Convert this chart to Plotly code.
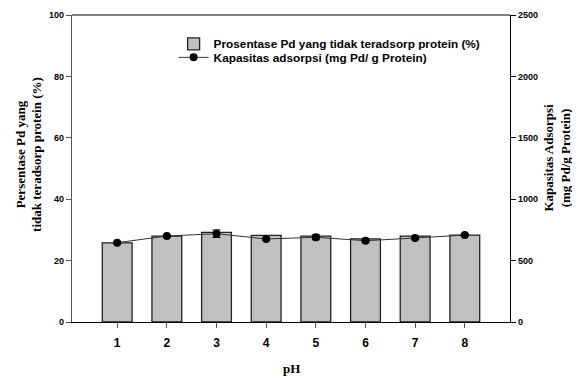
import plotly.graph_objects as go

ph = [1, 2, 3, 4, 5, 6, 7, 8]
persen = [25.8, 28.0, 29.2, 28.2, 28.0, 27.1, 28.0, 28.3]
kapasitas = [646, 700, 719, 676, 690, 662, 684, 708]
kapasitas_err = [8, 10, 31, 10, 20, 10, 12, 10]

ann_font = dict(family="Liberation Serif", size=13, color="black")
leg_font = dict(family="Liberation Sans", size=11.8, color="black")

fig = go.Figure()
fig.add_trace(go.Bar(
    x=ph, y=persen, width=0.6,
    name="<b>Prosentase Pd yang tidak teradsorp protein (%)</b>",
    marker=dict(color="#c0c0c0", line=dict(color="#222222", width=1.3)),
    yaxis="y", legend="legend"))
fig.add_trace(go.Scatter(
    x=ph, y=kapasitas, mode="lines+markers",
    name="<b>Kapasitas adsorpsi (mg Pd/ g Protein)</b>",
    line=dict(color="#333333", width=1),
    marker=dict(color="black", size=8),
    error_y=dict(type="data", array=kapasitas_err, color="black", thickness=1, width=4),
    yaxis="y2", legend="legend2"))

fig.update_layout(
    width=572, height=375,
    margin=dict(l=64, r=70, t=7, b=61, autoexpand=False),
    paper_bgcolor="white", plot_bgcolor="white",
    showlegend=True,
    legend=dict(x=0.232, y=0.906, xanchor="left", yanchor="middle",
                bgcolor="rgba(0,0,0,0)", font=leg_font, itemwidth=30),
    legend2=dict(x=0.232, y=0.862, xanchor="left", yanchor="middle",
                 bgcolor="rgba(0,0,0,0)", font=leg_font, itemwidth=30),
    xaxis=dict(range=[0.09, 8.91], tickvals=ph, ticktext=[f"<b>{v}</b>" for v in ph],
               ticks="outside", ticklen=5, tickcolor="#555555", automargin=False,
               ticklabelstandoff=4,
               showline=True, linecolor="black", linewidth=1.2, mirror=False,
               showgrid=False, zeroline=False,
               tickfont=dict(family="Liberation Sans", size=12, color="black")),
    yaxis=dict(range=[0, 100], tickvals=[0, 20, 40, 60, 80, 100],
               ticktext=[f"<b>{v}</b>" for v in [0, 20, 40, 60, 80, 100]],
               ticks="outside", ticklen=5, tickcolor="#555555", automargin=False,
               showline=True, linecolor="#555555", linewidth=1.2,
               showgrid=False, zeroline=False,
               tickfont=dict(family="Liberation Sans", size=9, color="black")),
    yaxis2=dict(range=[0, 2500], overlaying="y", side="right",
                tickvals=[0, 500, 1000, 1500, 2000, 2500],
                ticktext=[f"<b>{v}</b>" for v in [0, 500, 1000, 1500, 2000, 2500]],
                ticks="outside", ticklen=5, tickcolor="black", automargin=False,
                showline=True, linecolor="black", linewidth=1.2,
                showgrid=False, zeroline=False,
                tickfont=dict(family="Liberation Sans", size=9, color="black")),
    shapes=[dict(type="line", xref="paper", yref="paper", x0=0, x1=1, y0=1, y1=1,
                 line=dict(color="black", width=1.2))],
    annotations=[
        dict(text="<b>Persentase Pd yang<br>tidak teradsorp protein (%)</b>",
             xref="paper", yref="paper", x=-0.10, y=0.545, textangle=-90,
             showarrow=False, font=ann_font, xanchor="center", yanchor="middle"),
        dict(text="<b>Kapasitas Adsorpsi<br>(mg Pd/g Protein)</b>",
             xref="paper", yref="paper", x=1.107, y=0.535, textangle=-90,
             showarrow=False, font=ann_font, xanchor="center", yanchor="middle"),
        dict(text="<b>pH</b>", xref="paper", yref="paper", x=0.5, y=-0.153,
             showarrow=False, font=ann_font, xanchor="center", yanchor="middle"),
    ],
)

fig.write_html("out.html")
